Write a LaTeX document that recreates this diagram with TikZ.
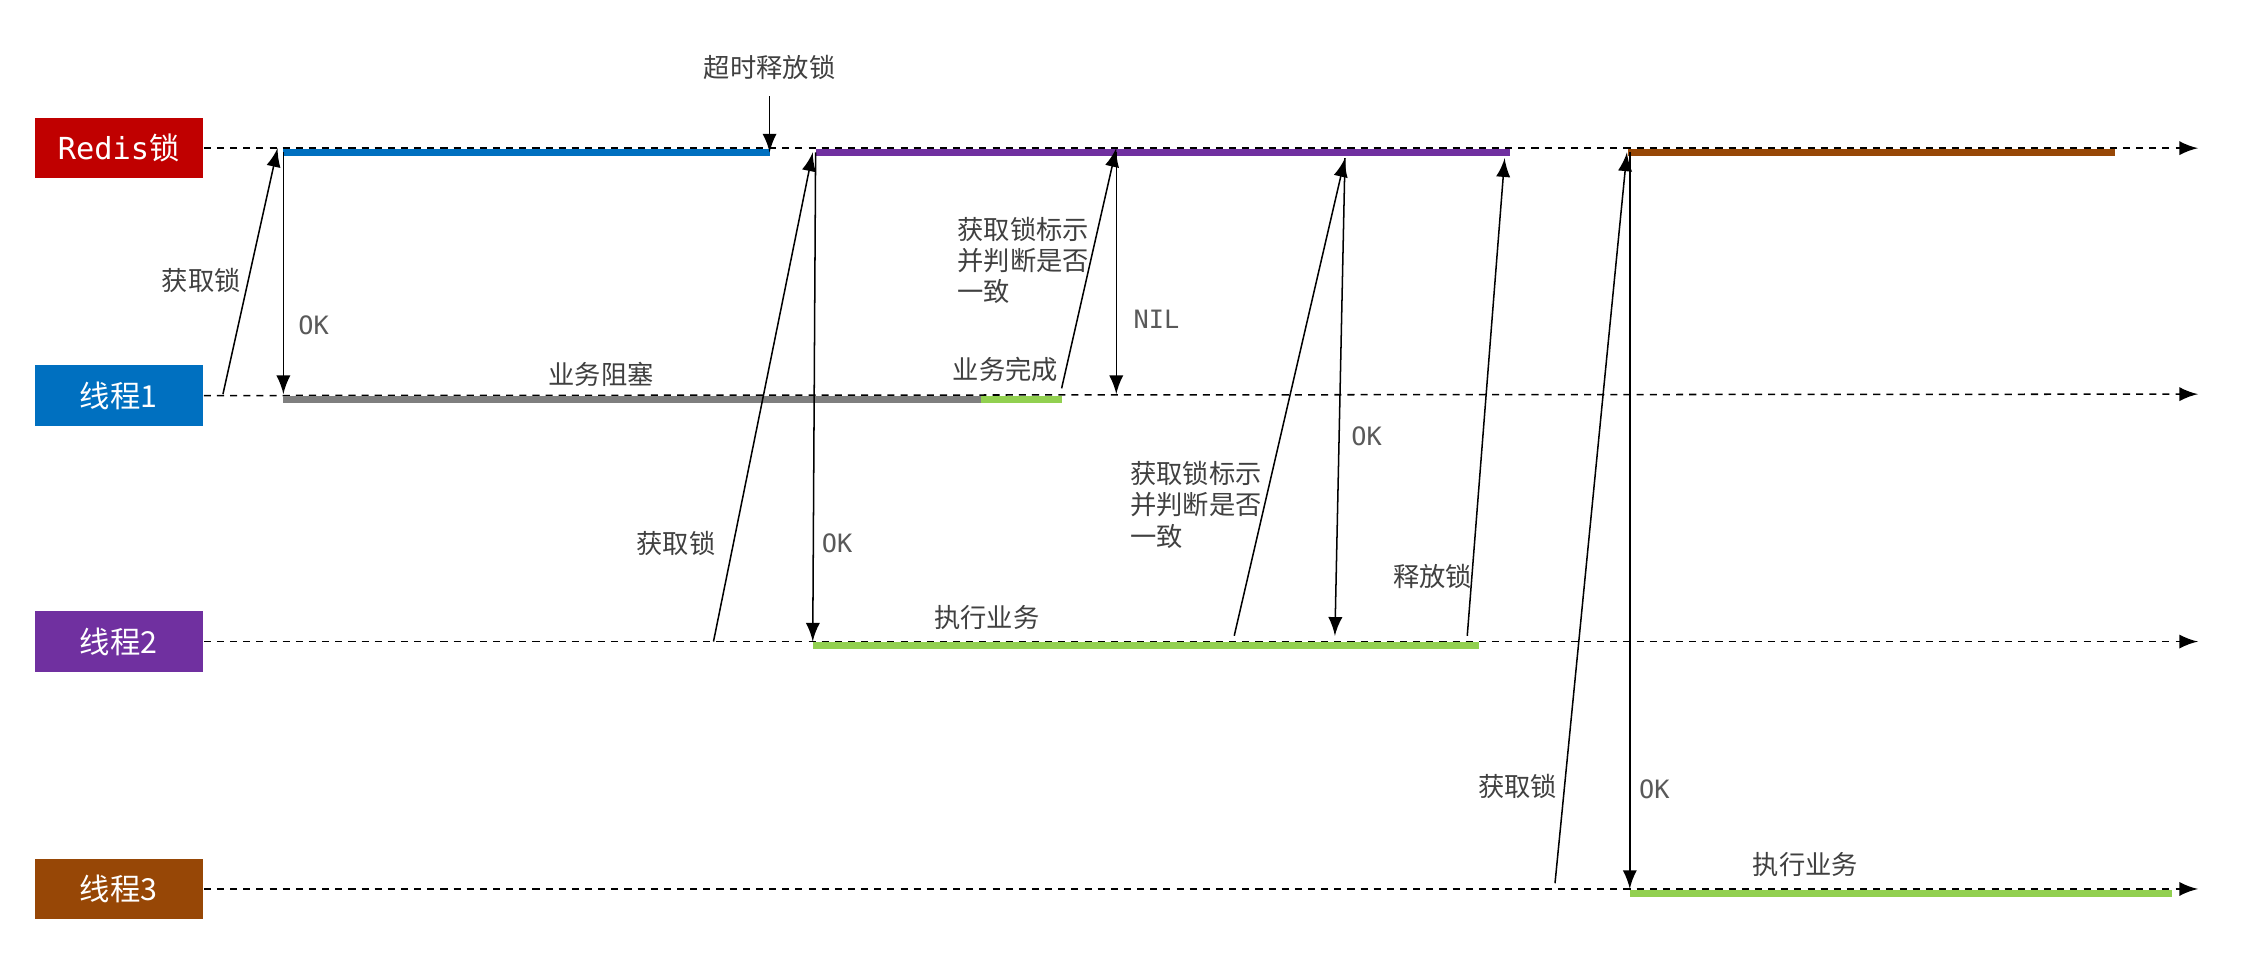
\documentclass[tikz,border=0pt]{standalone}
\usepackage{fontspec}
\setmainfont{Noto Sans CJK SC}
\newfontfamily\mono{DejaVu Sans Mono}
\usetikzlibrary{arrows}
\definecolor{redisred}{HTML}{C00000}
\definecolor{tblue}{HTML}{0070C0}
\definecolor{tpurple}{HTML}{7030A0}
\definecolor{tbrown}{HTML}{974706}
\definecolor{tgreen}{HTML}{92D050}
\definecolor{tgray}{HTML}{7F7F7F}
\tikzset{
  lanebox/.style={minimum width=1.17cm,minimum height=0.42cm,inner sep=0pt,text=white,font=\fontsize{6}{7}\selectfont},
  lane/.style={dash pattern=on 1.4pt off 1.2pt,black,-latex,line width=0.3pt},
  bar/.style={line width=0.05cm},
  msg/.style={-latex,line width=0.3pt},
  lbl/.style={font=\fontsize{5.2}{6.2}\selectfont,text=black!75,inner sep=0pt},
  oklbl/.style={font=\mono\fontsize{5}{6}\selectfont,text=black!65,inner sep=0pt}
}
\begin{document}
\begin{tikzpicture}
\useasboundingbox (0,0) rectangle (15.6,-6.62);

% lanes
\node [lanebox,fill=redisred] (redis) at (0.825,-1.03) {{\mono Redis}锁};
\node [lanebox,fill=tblue] (t1) at (0.825,-2.75) {线程1};
\node [lanebox,fill=tpurple] (t2) at (0.825,-4.46) {线程2};
\node [lanebox,fill=tbrown] (t3) at (0.825,-6.18) {线程3};
\draw [lane] (redis.east) -- (15.28,-1.03);
\draw [lane] (t1.east) -- (15.28,-2.74);
\draw [lane] (t2.east) -- (15.28,-4.46);
\draw [lane] (t3.east) -- (15.28,-6.18);

% bars
\draw [bar,tblue] (1.97,-1.06) -- (5.35,-1.06);
\draw [bar,tpurple] (5.67,-1.06) -- (10.5,-1.06);
\draw [bar,tbrown] (11.32,-1.06) -- (14.7,-1.06);
\draw [bar,tgray] (1.97,-2.78) -- (6.82,-2.78);
\draw [bar,tgreen] (6.82,-2.78) -- (7.38,-2.78);
\draw [bar,tgreen] (5.65,-4.49) -- (10.28,-4.49);
\draw [bar,tgreen] (11.33,-6.21) -- (15.1,-6.21);

% thread 1
\coordinate (a1) at (1.55,-2.74);
\coordinate (a2) at (1.93,-1.03);
\coordinate (b1) at (1.97,-1.06);
\coordinate (b2) at (1.97,-2.74);
\draw [msg] (a1) -- (a2);
\draw [msg] (b1) -- (b2);
\node [lbl] (get1) at (1.40,-1.95) {获取锁};
\node [oklbl] (ok1) at (2.18,-2.26) {OK};
\node [lbl] (block) at (4.18,-2.60) {业务阻塞};
\node [lbl] (done) at (6.99,-2.57) {业务完成};

% timeout
\node [lbl] (timeout) at (5.35,-0.47) {超时释放锁};
\coordinate (c2) at (5.35,-1.06);
\draw [msg] (5.35,-0.67) -- (c2);

% thread 2 acquires
\coordinate (d1) at (4.96,-4.46);
\coordinate (d2) at (5.65,-1.06);
\coordinate (e1) at (5.67,-1.06);
\coordinate (e2) at (5.65,-4.46);
\draw [msg] (d1) -- (d2);
\draw [msg] (e1) -- (e2);
\node [lbl] (get2) at (4.70,-3.78) {获取锁};
\node [oklbl] (ok2) at (5.82,-3.78) {OK};
\node [lbl] (run2) at (6.86,-4.29) {执行业务};

% thread 1 checks
\coordinate (f1) at (7.38,-2.70);
\coordinate (f2) at (7.76,-1.03);
\coordinate (g1) at (7.76,-1.06);
\coordinate (g2) at (7.76,-2.74);
\draw [msg] (f1) -- (f2);
\draw [msg] (g1) -- (g2);
\node [lbl,align=left,anchor=north west] (chk1) at (6.65,-1.50) {获取锁标示\\并判断是否\\一致};
\node [oklbl] (nil) at (8.04,-2.22) {NIL};

% thread 2 checks and releases
\coordinate (h1) at (8.58,-4.42);
\coordinate (h2) at (9.35,-1.10);
\coordinate (i1) at (9.35,-1.10);
\coordinate (i2) at (9.28,-4.42);
\draw [msg] (h1) -- (h2);
\draw [msg] (i1) -- (i2);
\node [lbl,align=left,anchor=north west] (chk2) at (7.85,-3.20) {获取锁标示\\并判断是否\\一致};
\node [oklbl] (ok3) at (9.50,-3.03) {OK};
\coordinate (j1) at (10.20,-4.42);
\coordinate (j2) at (10.46,-1.10);
\draw [msg] (j1) -- (j2);
\node [lbl] (rel) at (9.96,-4.01) {释放锁};

% thread 3
\coordinate (k1) at (10.81,-6.14);
\coordinate (k2) at (11.31,-1.06);
\coordinate (l1) at (11.33,-1.06);
\coordinate (l2) at (11.33,-6.18);
\draw [msg] (k1) -- (k2);
\draw [msg] (l1) -- (l2);
\node [lbl] (get3) at (10.55,-5.47) {获取锁};
\node [oklbl] (ok4) at (11.50,-5.49) {OK};
\node [lbl] (run3) at (12.55,-6.01) {执行业务};
\end{tikzpicture}
\end{document}
